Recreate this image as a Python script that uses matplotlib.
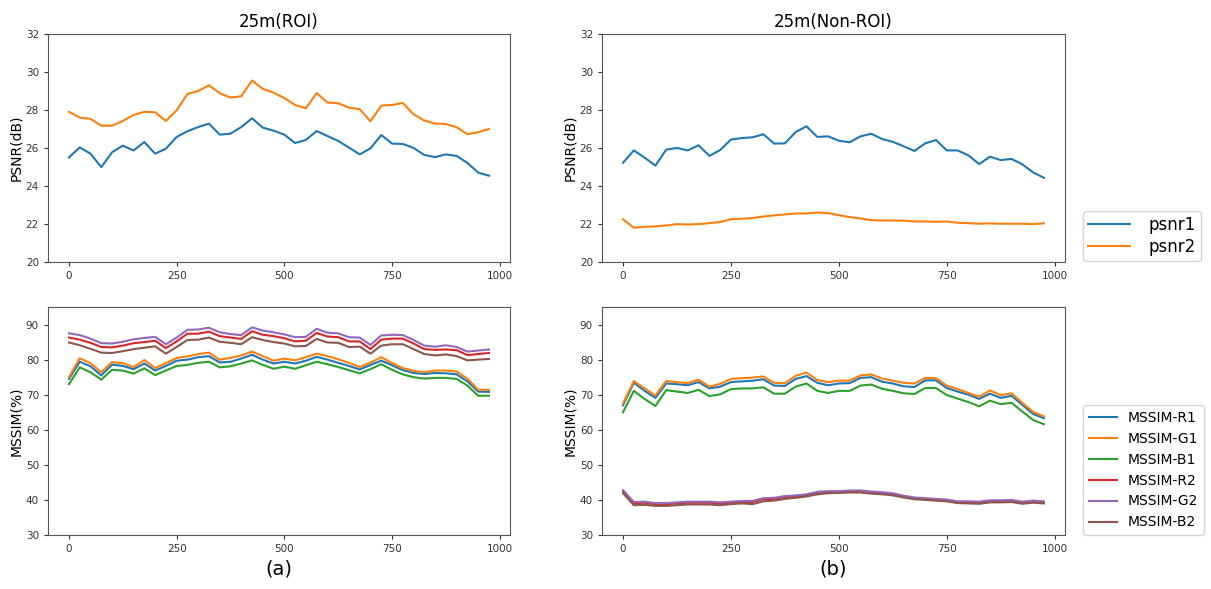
import numpy as np
import matplotlib
matplotlib.use("Agg")
import matplotlib.pyplot as plt

# ==========================================
# Data
# ==========================================
frames = list(range(0, 1000, 25))

# PSNR, ROI
psnr1_roi = [25.51, 26.04, 25.71, 25.00, 25.78, 26.13, 25.88, 26.32, 25.71, 25.97,
             26.59, 26.89, 27.11, 27.29, 26.71, 26.76, 27.11, 27.57, 27.08, 26.92,
             26.71, 26.27, 26.43, 26.90, 26.64, 26.38, 26.03, 25.67, 25.99, 26.69,
             26.24, 26.22, 26.01, 25.64, 25.53, 25.67, 25.59, 25.22, 24.71, 24.55]
psnr2_roi = [27.91, 27.61, 27.54, 27.18, 27.18, 27.43, 27.75, 27.91, 27.89, 27.43,
             27.99, 28.85, 29.01, 29.31, 28.89, 28.66, 28.73, 29.56, 29.12, 28.92,
             28.64, 28.27, 28.10, 28.90, 28.40, 28.36, 28.13, 28.05, 27.41, 28.24,
             28.27, 28.38, 27.78, 27.45, 27.29, 27.27, 27.10, 26.73, 26.84, 27.01]

# PSNR, Non-ROI
psnr1_non = [25.23, 25.88, 25.50, 25.08, 25.92, 26.01, 25.88, 26.15, 25.59, 25.90,
             26.45, 26.53, 26.57, 26.73, 26.24, 26.25, 26.85, 27.15, 26.59, 26.62,
             26.39, 26.31, 26.62, 26.76, 26.48, 26.33, 26.10, 25.85, 26.25, 26.43,
             25.88, 25.88, 25.62, 25.16, 25.55, 25.37, 25.43, 25.15, 24.72, 24.44]
psnr2_non = [22.25, 21.81, 21.86, 21.88, 21.93, 22.00, 21.98, 22.00, 22.05, 22.11,
             22.26, 22.28, 22.32, 22.40, 22.46, 22.51, 22.56, 22.56, 22.61, 22.58,
             22.47, 22.37, 22.30, 22.21, 22.19, 22.19, 22.18, 22.14, 22.14, 22.12,
             22.14, 22.07, 22.05, 22.02, 22.04, 22.02, 22.02, 22.02, 22.00, 22.04]

# MSSIM, ROI
r1_roi = [74.5, 79.4, 78.1, 75.5, 78.6, 78.2, 77.3, 78.9, 76.9, 78.2,
          79.7, 80.0, 80.7, 81.0, 79.2, 79.4, 80.3, 81.4, 80.0, 78.9,
          79.4, 78.9, 79.7, 80.8, 80.0, 79.1, 78.2, 77.2, 78.5, 79.7,
          78.4, 77.0, 76.2, 75.9, 76.2, 76.1, 75.8, 73.8, 70.9, 70.8]
g1_roi = [75.0, 80.4, 79.0, 76.4, 79.3, 79.0, 77.9, 79.9, 77.6, 79.0,
          80.5, 80.9, 81.6, 82.0, 80.0, 80.5, 81.2, 82.3, 81.0, 79.7,
          80.3, 79.8, 80.7, 81.7, 81.0, 80.1, 79.1, 77.9, 79.2, 80.7,
          79.0, 77.6, 76.8, 76.4, 76.9, 76.9, 76.6, 74.6, 71.4, 71.4]
b1_roi = [73.0, 77.8, 76.4, 74.3, 77.1, 76.9, 76.0, 77.5, 75.6, 76.9,
          78.2, 78.5, 79.1, 79.4, 77.8, 78.1, 78.9, 79.8, 78.5, 77.4,
          78.0, 77.4, 78.4, 79.4, 78.7, 77.9, 77.0, 76.1, 77.3, 78.7,
          77.1, 75.8, 75.0, 74.6, 74.8, 74.8, 74.5, 72.6, 69.7, 69.7]
r2_roi = [86.3, 85.7, 84.8, 83.6, 83.5, 84.0, 84.7, 85.0, 85.4, 83.3,
          85.2, 87.4, 87.4, 88.0, 86.7, 86.3, 85.9, 88.1, 87.1, 86.7,
          86.1, 85.2, 85.4, 87.6, 86.6, 86.4, 85.2, 85.2, 83.0, 85.7,
          86.0, 86.0, 84.6, 83.0, 82.8, 82.9, 82.7, 81.3, 81.6, 81.9]
g2_roi = [87.5, 87.0, 86.0, 84.7, 84.6, 85.1, 85.8, 86.2, 86.5, 84.4,
          86.3, 88.5, 88.6, 89.1, 87.8, 87.3, 87.0, 89.2, 88.3, 87.8,
          87.2, 86.4, 86.5, 88.8, 87.7, 87.5, 86.4, 86.3, 84.2, 86.9,
          87.1, 87.0, 85.6, 84.0, 83.7, 84.1, 83.6, 82.3, 82.6, 82.9]
b2_roi = [84.9, 84.1, 83.1, 82.0, 81.9, 82.4, 83.0, 83.4, 83.8, 81.7,
          83.6, 85.6, 85.7, 86.3, 85.1, 84.8, 84.4, 86.4, 85.6, 85.0,
          84.6, 83.8, 83.9, 85.9, 84.9, 84.8, 83.6, 83.7, 81.7, 84.0,
          84.4, 84.4, 83.0, 81.6, 81.2, 81.5, 81.0, 79.8, 80.0, 80.2]

# MSSIM, Non-ROI
r1_non = [67.0, 73.4, 71.1, 69.1, 73.2, 73.0, 72.7, 73.6, 71.8, 72.3,
          73.6, 73.8, 74.0, 74.4, 72.6, 72.5, 74.5, 75.3, 73.4, 72.7,
          73.2, 73.3, 74.8, 75.0, 73.7, 73.2, 72.4, 72.2, 74.1, 74.1,
          71.9, 70.9, 70.0, 68.8, 70.3, 69.1, 69.7, 67.1, 64.5, 63.3]
g1_non = [67.5, 73.9, 71.8, 69.8, 73.9, 73.6, 73.3, 74.3, 72.3, 73.1,
          74.5, 74.7, 74.9, 75.2, 73.4, 73.3, 75.4, 76.3, 74.2, 73.6,
          74.0, 74.0, 75.5, 75.8, 74.6, 74.0, 73.4, 73.2, 74.8, 74.7,
          72.6, 71.6, 70.5, 69.4, 71.2, 69.9, 70.4, 67.7, 65.1, 63.8]
b1_non = [65.0, 71.1, 68.8, 66.8, 71.3, 70.9, 70.5, 71.4, 69.6, 70.1,
          71.6, 71.8, 71.8, 72.1, 70.3, 70.3, 72.3, 73.2, 71.1, 70.5,
          71.1, 71.1, 72.6, 72.9, 71.7, 71.1, 70.4, 70.2, 71.9, 71.9,
          69.9, 68.9, 67.9, 66.7, 68.3, 67.3, 67.7, 65.2, 62.8, 61.6]
r2_non = [42.5, 39.1, 39.2, 38.8, 38.8, 39.0, 39.2, 39.2, 39.2, 39.0,
          39.2, 39.4, 39.4, 40.2, 40.3, 40.8, 41.0, 41.3, 42.0, 42.2,
          42.2, 42.4, 42.4, 42.1, 41.9, 41.6, 40.9, 40.4, 40.2, 40.0,
          39.8, 39.3, 39.3, 39.2, 39.6, 39.6, 39.7, 39.2, 39.5, 39.3]
g2_non = [42.8, 39.4, 39.5, 39.1, 39.1, 39.3, 39.5, 39.5, 39.5, 39.3,
          39.5, 39.7, 39.7, 40.5, 40.6, 41.1, 41.3, 41.6, 42.3, 42.5,
          42.5, 42.7, 42.7, 42.4, 42.2, 41.9, 41.2, 40.7, 40.5, 40.3,
          40.1, 39.6, 39.6, 39.5, 39.9, 39.9, 40.0, 39.5, 39.8, 39.6]
b2_non = [41.9, 38.5, 38.6, 38.3, 38.3, 38.5, 38.7, 38.7, 38.7, 38.5,
          38.8, 39.0, 38.8, 39.6, 39.8, 40.3, 40.6, 41.0, 41.6, 41.9,
          42.0, 42.1, 42.1, 41.8, 41.6, 41.3, 40.7, 40.2, 40.0, 39.8,
          39.6, 39.1, 39.0, 38.9, 39.3, 39.3, 39.4, 38.9, 39.2, 39.0]

mssim_names = ["MSSIM-R1", "MSSIM-G1", "MSSIM-B1", "MSSIM-R2", "MSSIM-G2", "MSSIM-B2"]
mssim_roi = [r1_roi, g1_roi, b1_roi, r2_roi, g2_roi, b2_roi]
mssim_non = [r1_non, g1_non, b1_non, r2_non, g2_non, b2_non]

# ==========================================
# Figure
# ==========================================
fig = plt.figure(figsize=(12.11, 5.89), dpi=100)

ax_tl = fig.add_axes([0.0396, 0.555, 0.3815, 0.387])
ax_tr = fig.add_axes([0.4971, 0.555, 0.3823, 0.387])
ax_bl = fig.add_axes([0.0396, 0.0917, 0.3815, 0.387])
ax_br = fig.add_axes([0.4971, 0.0917, 0.3823, 0.387])

# top row: PSNR
ax_tl.plot(frames, psnr1_roi, label="psnr1")
ax_tl.plot(frames, psnr2_roi, label="psnr2")
ax_tr.plot(frames, psnr1_non, label="psnr1")
ax_tr.plot(frames, psnr2_non, label="psnr2")

for ax, title in [(ax_tl, "25m(ROI)"), (ax_tr, "25m(Non-ROI)")]:
    ax.set_ylim(20, 32)
    ax.set_yticks(range(20, 33, 2))
    ax.set_ylabel("PSNR(dB)", fontsize=10, labelpad=2)
    ax.set_title(title, fontsize=12, pad=5)

ax_tr.legend(loc="lower left", bbox_to_anchor=(1.04, 0.005), fontsize=12,
             handlelength=2.5, handletextpad=1.1, labelspacing=0.25,
             borderpad=0.3, borderaxespad=0)

# bottom row: MSSIM
for name, vals in zip(mssim_names, mssim_roi):
    ax_bl.plot(frames, vals, label=name)
for name, vals in zip(mssim_names, mssim_non):
    ax_br.plot(frames, vals, label=name)

for ax, sub in [(ax_bl, "(a)"), (ax_br, "(b)")]:
    ax.set_ylim(30, 95)
    ax.set_yticks(range(30, 91, 10))
    ax.set_ylabel("MSSIM(%)", fontsize=10, labelpad=2)
    ax.set_xlabel(sub, fontsize=14, labelpad=4)

ax_br.legend(loc="lower left", bbox_to_anchor=(1.04, 0.0), fontsize=10,
             borderaxespad=0)

for ax in [ax_tl, ax_tr, ax_bl, ax_br]:
    ax.set_xticks([0, 250, 500, 750, 1000])
    ax.tick_params(labelsize=7.5, colors="#333333", length=3)
    for sp in ax.spines.values():
        sp.set_color("#555555")

fig.savefig("out.png", dpi=100)
